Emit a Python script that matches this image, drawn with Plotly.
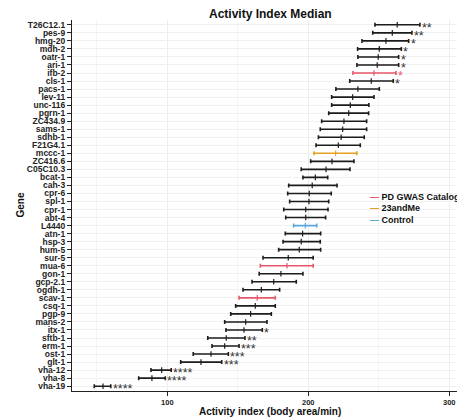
import plotly.graph_objects as go

# Genes, top to bottom, with the spread of the activity index (low / median / high)
genes = [
    "T26C12.1", "pes-9", "hmg-20", "mdh-2", "oatr-1", "ari-1", "ifb-2", "cls-1",
    "pacs-1", "lev-11", "unc-116", "pgrn-1", "ZC434.9", "sams-1", "sdhb-1",
    "F21G4.1", "mccc-1", "ZC416.6", "C05C10.3", "bcat-1", "cah-3", "cpr-6",
    "spl-1", "cpr-1", "abt-4", "L4440", "atn-1", "hsp-3", "hum-5", "sur-5",
    "mua-6", "gon-1", "gcp-2.1", "ogdh-1", "scav-1", "csq-1", "pgp-9", "mans-2",
    "itx-1", "sftb-1", "erm-1", "ost-1", "glt-1", "vha-12", "vha-8", "vha-19",
]
low = [
    247.3, 245.7, 238.1, 235.0, 235.2, 234.5, 231.7, 229.4,
    219.6, 216.6, 216.6, 214.5, 209.5, 208.5, 207.2,
    205.5, 204.0, 201.7, 195.0, 196.2, 186.1, 185.4,
    186.8, 182.6, 184.0, 189.6, 183.7, 182.1, 179.0, 167.9,
    166.0, 165.2, 160.1, 153.7, 150.9, 148.5, 145.0, 140.7,
    141.6, 128.7, 131.7, 118.4, 109.5, 88.4, 79.7, 48.2,
]
median = [
    263.1, 259.6, 255.1, 250.4, 249.6, 248.9, 246.6, 244.7,
    235.2, 231.5, 229.8, 228.7, 225.3, 224.4, 223.3,
    221.3, 219.4, 216.8, 212.6, 205.0, 202.8, 200.7,
    200.5, 198.2, 198.2, 197.9, 196.0, 195.0, 193.6, 185.8,
    184.9, 180.6, 175.5, 166.7, 163.8, 162.4, 159.1, 155.6,
    154.4, 141.8, 140.7, 131.0, 123.9, 96.0, 89.1, 54.4,
]
high = [
    279.2, 273.5, 271.2, 266.0, 264.1, 264.1, 262.2, 260.3,
    250.4, 246.6, 243.0, 242.8, 241.4, 241.4, 239.7,
    236.9, 234.5, 232.4, 229.6, 213.8, 220.4, 216.3,
    214.5, 214.0, 212.3, 206.0, 208.8, 208.5, 208.8, 203.5,
    203.5, 196.2, 191.5, 179.7, 176.6, 176.6, 173.8, 170.7,
    167.4, 155.1, 150.9, 143.3, 138.6, 102.8, 98.6, 59.9,
]
source = [
    "", "", "", "", "", "", "PD GWAS Catalog", "",
    "", "", "", "", "", "", "",
    "", "23andMe", "", "", "", "", "",
    "", "", "", "Control", "", "", "", "",
    "PD GWAS Catalog", "", "", "", "PD GWAS Catalog", "", "", "",
    "", "", "", "", "", "", "", "",
]
signif = [
    "**", "**", "*", "*", "*", "*", "*", "*",
    "", "", "", "", "", "", "",
    "", "", "", "", "", "", "",
    "", "", "", "", "", "", "", "",
    "", "", "", "", "", "", "", "",
    "*", "**", "***", "***", "***", "****", "****", "****",
]

legend_order = ["PD GWAS Catalog", "23andMe", "Control"]
colors = {"": "#1c1c1c", "PD GWAS Catalog": "#E9576A",
          "23andMe": "#E8A020", "Control": "#5BA8DE"}

FONT = "Liberation Sans, Arial, Helvetica, sans-serif"

fig = go.Figure()

for grp in ["", *legend_order]:
    idx = [i for i, s in enumerate(source) if s == grp]
    c = colors[grp]
    fig.add_trace(go.Scatter(
        x=[median[i] for i in idx],
        y=[genes[i] for i in idx],
        mode="markers",
        marker=dict(symbol="line-ns", size=4, color=c, line=dict(color=c, width=1.2)),
        error_x=dict(
            type="data", symmetric=False,
            array=[high[i] - median[i] for i in idx],
            arrayminus=[median[i] - low[i] for i in idx],
            color=c, thickness=1.6, width=2,
        ),
        showlegend=False,
        hoverinfo="skip",
    ))

annotations = []
# significance stars to the right of each interval
for g, h, s, src in zip(genes, high, signif, source):
    if s:
        annotations.append(dict(
            x=h, y=g, xref="x", yref="y", text=s, showarrow=False,
            xanchor="left", yanchor="middle", xshift=0, yshift=-3,
            font=dict(family=FONT, size=12.5, color=colors[src] if src else "#333333"),
        ))

# plot area in pixels: x 72..457, y 20..391
def px_x(p):
    return (p - 72) / 385.0

def px_y(p):
    return (391 - p) / 371.0

annotations.append(dict(
    x=px_x(270), y=px_y(13.5), xref="paper", yref="paper", text="Activity Index Median",
    showarrow=False, xanchor="center", yanchor="middle",
    font=dict(family=FONT, size=12, color="#111111", weight="bold"),
))
annotations.append(dict(
    x=px_x(270), y=px_y(411), xref="paper", yref="paper",
    text="Activity index (body area/min)", showarrow=False,
    xanchor="center", yanchor="middle",
    font=dict(family=FONT, size=10, color="#111111", weight="bold"),
))
annotations.append(dict(
    x=px_x(20), y=0.5, xref="paper", yref="paper", text="Gene", textangle=-90,
    showarrow=False, xanchor="center", yanchor="middle",
    font=dict(family=FONT, size=10, color="#111111", weight="bold"),
))

# legend entries: coloured key followed by the group name
for name, ypx in zip(legend_order, [196.5, 208.0, 219.5]):
    annotations.append(dict(
        x=px_x(368), y=px_y(ypx), xref="paper", yref="paper",
        text=f'<span style="color:{colors[name]}">—</span> {name}',
        showarrow=False, xanchor="left", yanchor="middle",
        font=dict(family=FONT, size=9, color="#111111", weight="bold"),
    ))

fig.update_layout(
    width=457, height=418,
    margin=dict(l=72, r=0, t=20, b=27),
    paper_bgcolor="white", plot_bgcolor="white",
    annotations=annotations,
    showlegend=False,
)

fig.update_xaxes(
    range=[32.4, 305.5],
    tickvals=[100, 200, 300],
    ticks="outside", ticklen=4, tickwidth=1, tickcolor="#222222",
    tickfont=dict(family=FONT, size=7.5, color="#222222", weight="bold"),
    showline=True, linecolor="#222222", linewidth=1.3,
    showgrid=True, gridcolor="#EDEDED", gridwidth=1,
    minor=dict(tickvals=[50, 150, 250], showgrid=True, gridcolor="#F5F5F5", gridwidth=1),
    zeroline=False,
)
fig.update_yaxes(
    type="category", categoryorder="array", categoryarray=genes,
    tickmode="array", tickvals=genes, ticktext=genes,
    range=[45.6, -0.6],
    ticks="outside", ticklen=4, tickwidth=1, tickcolor="#222222",
    tickfont=dict(family=FONT, size=8.5, color="#222222", weight="bold"),
    showline=True, linecolor="#222222", linewidth=1.3,
    showgrid=True, gridcolor="#F0F0F0", gridwidth=1,
    zeroline=False,
)

fig.write_html("out.html")
